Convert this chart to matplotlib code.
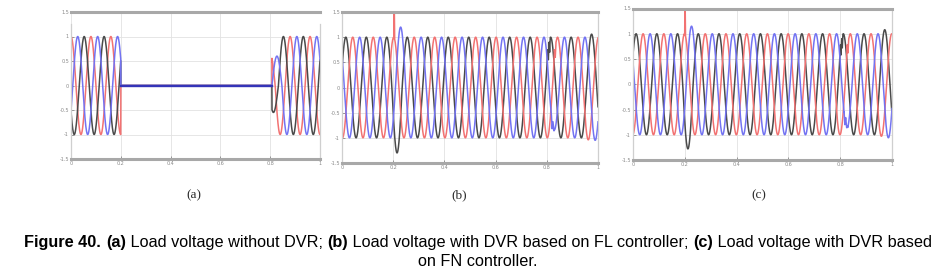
import numpy as np
import matplotlib.pyplot as plt

# three phase load voltage, x axis in units of the full run (12.5 cycles)
cycles = 12.5
xticks = [0, 0.2, 0.4, 0.6, 0.8, 1]
xtick_labels = ['0', '0.2', '0.4', '0.6', '0.8', '1']
yticks = [-1.5, -1, -0.5, 0, 0.5, 1, 1.5]
ytick_labels = ['-1.5', '-1', '-0.5', '0', '0.5', '1', '1.5']

# (a) without DVR: phase lag, amplitude segments (start, amp)
a_lag = {'red': 0.0, 'blue': 0.027, 'gray': 0.053}
a_edges = {'red': [0, 0.2, 0.807, 0.82],
           'blue': [0, 0.2, 0.807, 0.847],
           'gray': [0, 0.2, 0.807, 0.833]}
a_amps = {'red': [1, 0, 0.65, 1],
          'blue': [1, 0, 0.6, 1],
          'gray': [1, 0, 0.55, 1]}
sag_start, sag_end, sag_level = 0.2, 0.807, 0.0

# (b) DVR with FL controller
b_lag = {'gray': 0.015, 'red': 0.042, 'blue': 0.069}
b_edges = {'gray': [0, 0.195, 0.235, 0.955, 0.995],
           'red': [0, 0.942, 0.982],
           'blue': [0, 0.209, 0.249, 0.809, 0.849, 0.969]}
b_amps = {'gray': [1, 1.3, 1, 1.06, 1],
          'red': [1, 1.04, 1],
          'blue': [1, 1.2, 1, 0.85, 1, 1.05]}
b_events = {'red': [[(0.2025, 0.97), (0.2035, 1.5), (0.2045, 1.5), (0.2055, 0.98)],
                    [(0.826, 0.31), (0.830, 0.75), (0.833, 0.6), (0.836, 0.9), (0.839, 0.97)]],
            'gray': [[(0.800, 0.38), (0.804, 0.75), (0.806, 0.55), (0.809, 0.9), (0.811, 0.7), (0.813, 0.98)]],
            'blue': [[(0.818, -0.55), (0.821, -0.82), (0.824, -0.68), (0.828, -0.86), (0.832, -0.83)]]}

# (c) DVR with FN controller
c_lag = {'gray': 0.012, 'red': 0.039, 'blue': 0.066}
c_edges = {'gray': [0, 0.192, 0.232, 0.952, 0.992],
           'red': [0, 0.939, 0.979],
           'blue': [0, 0.206, 0.246, 0.806, 0.846, 0.966]}
c_amps = {'gray': [1, 1.28, 1, 1.08, 1],
          'red': [1, 1.03, 1],
          'blue': [1, 1.15, 1, 0.88, 1, 1.06]}
c_events = {'red': [[(0.1995, 0.97), (0.2005, 1.5), (0.2015, 1.5), (0.2025, 0.98)],
                    [(0.823, 0.31), (0.827, 0.78), (0.830, 0.62), (0.833, 0.9), (0.836, 0.97)]],
            'gray': [[(0.797, 0.38), (0.801, 0.78), (0.803, 0.58), (0.806, 0.9), (0.808, 0.72), (0.810, 0.98)]],
            'blue': [[(0.815, -0.55), (0.818, -0.8), (0.821, -0.66), (0.825, -0.86), (0.829, -0.83)]]}

colors = {'red': '#f27272', 'blue': '#7373f2', 'gray': '#4a4a4a'}

t = np.linspace(0, 1, 4001)


def phase(lag, edges, amps, events=()):
    idx = np.searchsorted(edges, t, side='right') - 1
    a = np.array(amps, dtype=float)[np.clip(idx, 0, len(amps) - 1)]
    y = a * np.cos(2 * np.pi * cycles * (t - lag))
    tt, yy = t, y
    for pts in events:
        pts = np.array(pts)
        keep = (tt < pts[0, 0]) | (tt > pts[-1, 0])
        tt = np.concatenate([tt[keep], pts[:, 0]])
        yy = np.concatenate([yy[keep], pts[:, 1]])
        o = np.argsort(tt, kind='stable')
        tt, yy = tt[o], yy[o]
    return tt, yy


fig = plt.figure(figsize=(9.48, 2.79), dpi=100)
W, H = 948, 279


def make_ax(l, r, top, bot):
    ax = fig.add_axes([l / W, 1 - bot / H, (r - l) / W, (bot - top) / H])
    ax.set_xlim(0, 1)
    ax.set_ylim(-1.5, 1.5)
    ax.set_xticks(xticks)
    ax.set_xticklabels(xtick_labels)
    ax.set_yticks(yticks)
    ax.set_yticklabels(ytick_labels)
    ax.tick_params(direction='in', length=2, width=0.6, colors='#888888', labelsize=3.5, pad=1.5)
    ax.grid(True, color='#e2e2e2', lw=0.6)
    for s in ['top', 'bottom']:
        ax.spines[s].set_color('#a8a8a8')
        ax.spines[s].set_linewidth(2.2)
    for s in ['left', 'right']:
        ax.spines[s].set_color('#cfcfcf')
        ax.spines[s].set_linewidth(0.9)
    return ax


# panel (a)
ax1 = make_ax(71, 320, 12, 159)
ax1.spines['left'].set_bounds(-1.5, 1.25)
ax1.spines['right'].set_bounds(-1.5, 1.25)
for name in ['red', 'gray', 'blue']:
    x, y = phase(a_lag[name], a_edges[name], a_amps[name])
    ax1.plot(x, y, color=colors[name], lw=1.1)
ax1.plot([sag_start, sag_end], [sag_level, sag_level], color='#3434b8', lw=1.7)

# panel (b)
ax2 = make_ax(342, 598, 12, 163)
for name in ['gray', 'red', 'blue']:
    x, y = phase(b_lag[name], b_edges[name], b_amps[name], b_events.get(name, []))
    ax2.plot(x, y, color=colors[name], lw=1.1)

# panel (c)
ax3 = make_ax(633, 892, 8.5, 160)
for name in ['gray', 'red', 'blue']:
    x, y = phase(c_lag[name], c_edges[name], c_amps[name], c_events.get(name, []))
    ax3.plot(x, y, color=colors[name], lw=1.1)

for lab, xc in [('(a)', 194), ('(b)', 459), ('(c)', 759)]:
    fig.text(xc / W, 1 - 195 / H, lab, ha='center', va='center', fontsize=9.5,
             family='Liberation Serif', color='#2a2a2a')

# caption with mixed bold / normal parts
renderer = fig.canvas.get_renderer()


def caption_line(pieces, yc):
    texts = [fig.text(0, 1 - yc / H, s, fontsize=11.7, fontweight=w, family='Liberation Sans',
                      va='center', ha='left', color='black') for s, w in pieces]
    widths = [tx.get_window_extent(renderer).width for tx in texts]
    x = (W - sum(widths)) / 2 + 4
    for tx, wd in zip(texts, widths):
        tx.set_x(x / W)
        x += wd


caption_line([('Figure 40. ', 'bold'), ('(a)', 'bold'), (' Load voltage without DVR; ', 'normal'),
              ('(b)', 'bold'), (' Load voltage with DVR based on FL controller; ', 'normal'),
              ('(c)', 'bold'), (' Load voltage with DVR based', 'normal')], 243)
caption_line([('on FN controller.', 'normal')], 262)

fig.savefig('out.png', dpi=100)
